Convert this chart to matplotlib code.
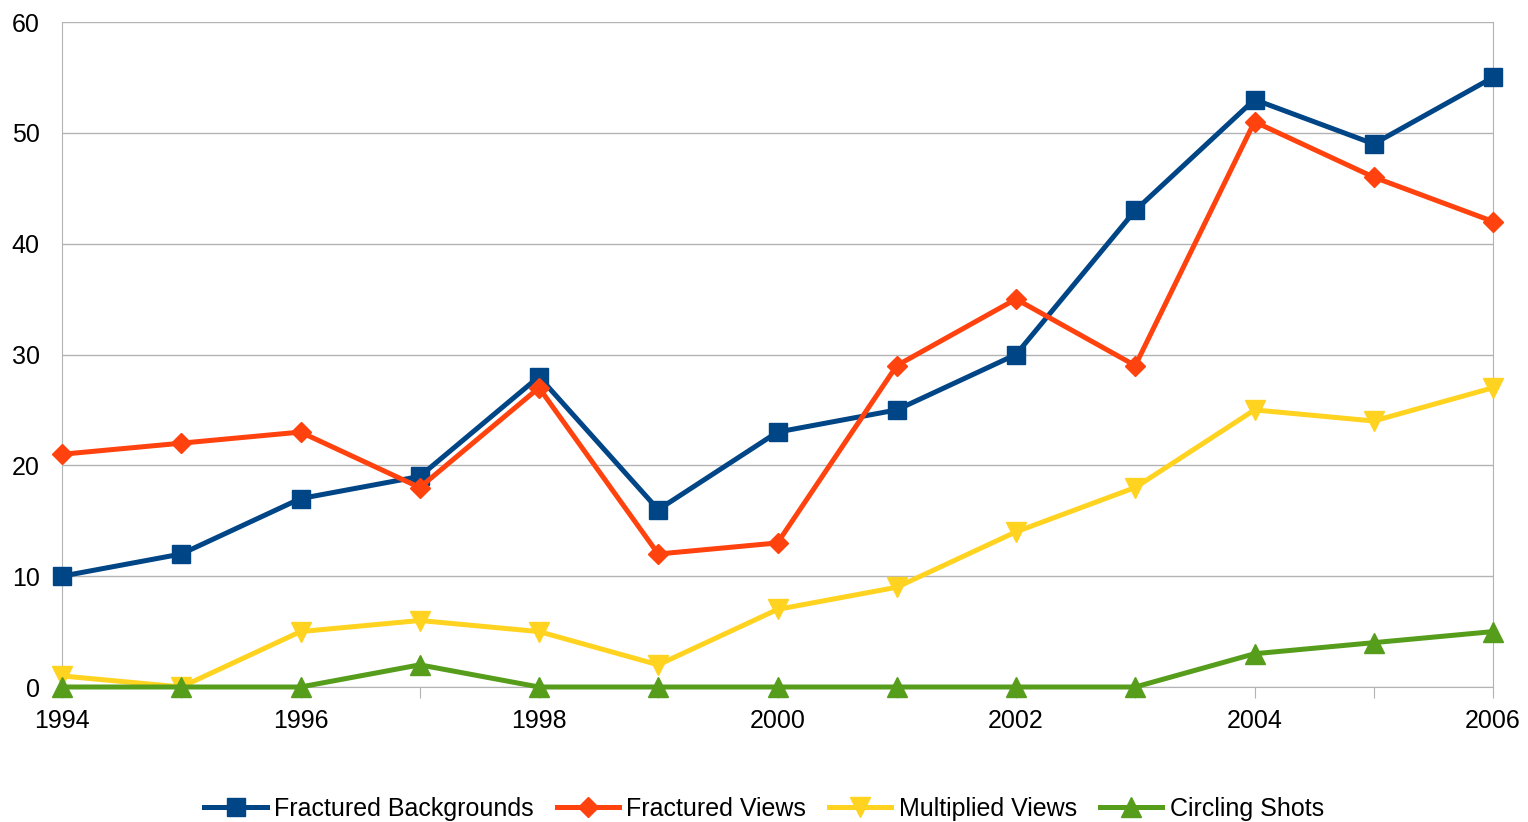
import matplotlib
matplotlib.use("Agg")
import matplotlib.pyplot as plt

plt.rcParams['font.family'] = ['Liberation Sans', 'DejaVu Sans']

years = list(range(1994, 2007))
fractured_backgrounds = [10, 12, 17, 19, 28, 16, 23, 25, 30, 43, 53, 49, 55]
fractured_views = [21, 22, 23, 18, 27, 12, 13, 29, 35, 29, 51, 46, 42]
multiplied_views = [1, 0, 5, 6, 5, 2, 7, 9, 14, 18, 25, 24, 27]
circling_shots = [0, 0, 0, 2, 0, 0, 0, 0, 0, 0, 3, 4, 5]

fig = plt.figure(figsize=(15.28, 8.22), dpi=100)
ax = fig.add_axes([62 / 1528, 135 / 822, 1431 / 1528, 665 / 822])

ax.plot(years, fractured_backgrounds, color='#004586', lw=3.6, marker='s', ms=13,
        label='Fractured Backgrounds', clip_on=False, zorder=4)
ax.plot(years, fractured_views, color='#ff420e', lw=3.6, marker='D', ms=10,
        label='Fractured Views', clip_on=False, zorder=5)
ax.plot(years, multiplied_views, color='#ffd320', lw=3.6, marker='v', ms=14,
        label='Multiplied Views', clip_on=False, zorder=3)
ax.plot(years, circling_shots, color='#579d1c', lw=3.6, marker='^', ms=14,
        label='Circling Shots', clip_on=False, zorder=6)

ax.set_xlim(1994, 2006)
ax.set_ylim(0, 60)
ax.set_yticks(range(0, 61, 10))
ax.set_xticks(years)
ax.set_xticklabels([str(y) if y % 2 == 0 else '' for y in years])
ax.tick_params(axis='x', length=8, color='#b3b3b3', labelsize=18, pad=8)
ax.tick_params(axis='y', length=0, labelsize=18, pad=16)
ax.grid(axis='y', color='#b3b3b3', lw=1)
ax.set_axisbelow(True)
for s in ['left', 'right', 'bottom']:
    ax.spines[s].set_color('#b3b3b3')
ax.spines['top'].set_visible(False)

fig.legend(loc='center', bbox_to_anchor=(0.5, 1 - 809 / 822), ncol=4, frameon=False,
           fontsize=18, handlelength=2.5, columnspacing=0.9, handletextpad=0.3)

fig.savefig('out.png', dpi=100)
